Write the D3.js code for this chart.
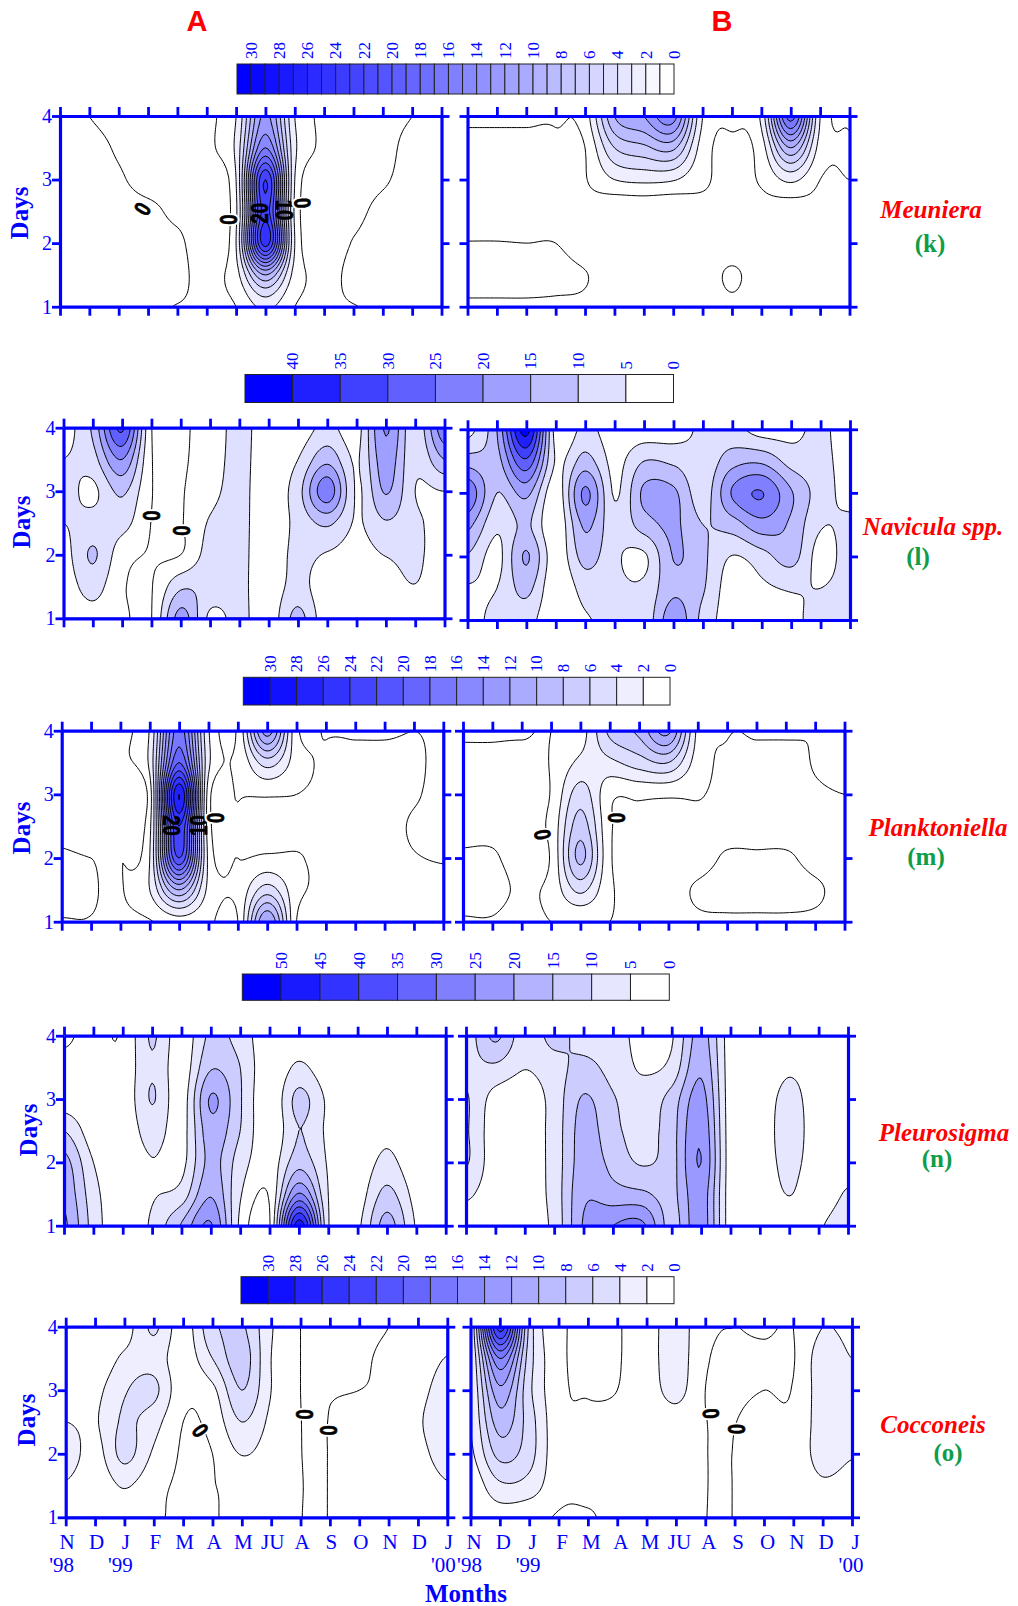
<!DOCTYPE html>
<html><head><meta charset="utf-8">
<script src="https://cdnjs.cloudflare.com/ajax/libs/d3/7.8.5/d3.min.js"></script>
<style>html,body{margin:0;padding:0;background:#fff}svg{display:block}</style>
</head><body><svg id="c" width="1018" height="1606"></svg>
<script>
// ---------- data: rows are day 4, 3.5, 3, 2.5, 2, 1.5, 1; columns are the 14 months ----------
const months = ["N","D","J","F","M","A","M","JU","A","S","O","N","D","J"];
const yearLabels = [[0,"'98"],[2,"'99"],[13,"'00"]];
const dayTicks = [1,2,3,4];
const speciesNames = ["Meuniera","Navicula spp.","Planktoniella","Pleurosigma","Cocconeis"];
const speciesTags = ["(k)","(l)","(m)","(n)","(o)"];

const meunieraA = [
[.3,0,-.3,-.3,-.3,-.3,2,12.5,2,-.3,-.3,-.3,0,.3],
[.3,.3,-.1,-.3,-.3,-.3,2.5,16,2.5,-.3,-.3,-.3,.3,.3],
[.3,.3,.1,-.3,-.3,-.4,2,24,2,-.4,-.3,-.1,.3,.3],
[.3,.3,.3,.2,-.2,-.4,1.6,23,1.6,-.4,-.2,.2,.3,.3],
[.3,.3,.3,.3,.2,-.4,2,25,2,-.4,.05,.3,.3,.3],
[.3,.3,.3,.3,.3,-.3,1.2,10,1.2,-.3,.3,.3,.3,.3],
[.1,.1,.1,.1,-.02,-.1,0,2.5,0,-.1,-.02,.1,.1,.1]];
const meunieraB = [
[.15,.15,.15,.15,1,10,12,15,2,.3,2.5,19,2,-.2],
[-.3,-.3,-.3,-.3,0,6,7.5,8.5,1,-.3,1,10,1.2,.2],
[-.3,-.3,-.3,-.3,-.1,2,2.5,2.2,.3,-.3,.2,2.5,0,0],
[-.3,-.3,-.3,-.3,-.4,-1.6,-1.6,-1.6,-.4,-.3,-.4,-1,-.3,-.3],
[.02,.02,0,0,-.3,-.3,-.3,-.3,-.3,-.3,-.3,-.3,-.3,-.3],
[.3,.3,.3,.2,.03,-.3,-.3,-.3,-.3,.08,-.3,-.3,-.3,-.3],
[-.1,-.1,-.1,-.1,-.1,-.3,-.3,-.3,-.3,-.1,-.3,-.3,-.3,-.3]];
const naviculaA = [
[3,11,31,.2,-.5,2,6.5,2,2,6.5,3,20.5,6.5,24],
[5,8,20,.3,-.5,2.5,6.5,2,5,13.5,4.5,18,6,15],
[7,4,11,.2,-.3,3.5,6.5,2,8,23,4.5,15.5,5,5],
[5,7,7,-.1,-.3,5.5,6.5,2,6.5,11,4.5,9.5,6,3],
[3,10.5,2,-.3,0,7,6.5,2,6.5,4.5,3,5.2,6,2],
[2,7,.5,-.2,9,8,6.5,2,7,1,2,2.5,4.8,1],
[1,3,.8,-.1,17,4,6.5,2,11.5,1,1,1,1,1]];
const naviculaB = [
[3,15,42,3,6.5,2,2,2.5,6,6.5,3,3.5,6,2],
[12.5,13,29,4.5,12,3.5,10,9,6.5,13,14,8,6.5,3],
[24,10,16.5,2,21,4.5,16,16,7.5,20.5,25.2,15.5,7.5,3.5],
[16.5,6,11,1,16,6.5,12.5,16,10,12.5,18,14,5.5,6],
[9.5,3.5,15.5,2,12,6,4.2,15.2,11,4.8,8,12,3,7.5],
[4.5,5,11.5,1,7,6,6,14,10.5,2,4,5.5,5,7],
[3,6.5,7,1,4.5,6,6.5,18,8.5,2,1.5,3.5,7,7]];
const planktonA = [
[-.2,-.2,-.2,2.2,17,2.2,.3,13,.5,.1,.1,.1,0,.1],
[-.2,-.2,-.2,2.5,20,2.5,.3,5,1,-.3,-.3,-.3,-.2,.3],
[-.2,-.2,-.2,1,28,1,.1,.2,0,-.3,-.3,-.3,-.1,.3],
[-.1,-.2,-.2,1.5,24,1,-.3,-.3,-.3,-.3,-.3,-.3,.1,.3],
[.05,0,-.05,2,22,1.5,0,.3,.1,-.3,-.3,-.3,-.05,.05],
[.2,.1,-.1,2,10,1.5,.5,5,.6,-.3,-.3,-.3,-.3,-.2],
[-.02,-.02,-.2,-.1,1,.3,0,12,0,-.3,-.3,-.3,-.3,-.2]];
const planktonB = [
[.1,.1,.1,0,1,6.5,8.5,12.5,1.5,.1,.1,.1,0,.1],
[-.2,-.2,-.3,.1,2.5,3.5,5,6,1,-.3,-.3,-.3,.05,.2],
[-.2,-.2,-.3,.1,5,.5,.4,.3,.1,-.3,-.3,-.3,-.1,0],
[-.2,-.2,-.3,.5,7,.3,-.3,-.3,-.2,-.3,-.3,-.3,-.2,-.2],
[.1,.1,-.3,.2,8.5,.3,-.3,-.3,-.3,.1,.1,.1,-.2,-.2],
[.3,.3,-.1,.5,4.5,.3,-.3,-.3,.1,.3,.3,.3,.1,-.2],
[-.05,-.05,-.3,0,0,0,-.3,-.3,-.1,-.1,-.1,-.1,-.1,-.2]];
const pleuroA = [
[-.5,1,.5,10.5,2,11,8,1,1.5,1,1,1,1,1],
[1,1,1,9.5,2,14.5,10,1,6,1.5,1,1,1,1],
[2,1,1,10.3,2.5,20.5,10.5,1,11.5,4,1,1.5,1,1],
[10,2,1,7.5,3,18,10,1,10,4,1,3.5,1,1],
[17,5,1,4.7,3.5,16.5,7.5,2,13,4.5,1.5,6.5,1,1],
[19,7,1,4.5,7,19.5,5.5,.5,25.5,5,2.5,11.5,3,1],
[21,8,1,6,15.5,25.5,4,-.5,48,5.5,4,17,4.5,1]];
const pleuroB = [
[7,16,7,11.5,8,6.5,4,4.5,17,2.5,2.5,3,2,1.5],
[8.5,9,5.2,8,11.5,8,4.5,6.5,19,2.5,2.5,4.5,3,1.5],
[10.5,3,2,7,15.5,10.5,7,12,22,2.5,3,6,3,1.5],
[10.5,2,2,7,17,11.5,8,13,24,2.5,3,6.5,3,2],
[10.5,2,2,7,17.5,13.5,9.5,13,25,2.5,3,6,3,3],
[6,2,2,7,19,17,16,13.5,23,2.5,2.5,5.1,2.5,5.5],
[2,2,2,6.5,20.5,25,26,13,23,2.5,2.5,3,4.5,7.5]];
const coccA = [
[1,.5,1,4.3,1,5.5,6.3,2.2,0,-.3,-.3,0,.5,.8],
[1,.5,2.4,3.2,.8,4,7,2,0,-.3,-.2,.3,.8,2.1],
[1,1.4,3.8,4.5,.5,1.5,6,2,0,-.05,0,.3,1.3,3],
[2,1.8,4.3,2.8,0,.6,4,1.5,.02,.02,.5,.3,1.7,3.5],
[3.2,1.2,4.6,1.7,-.2,0,2.1,1,.02,.02,.5,.3,1.3,3],
[1.8,.5,2.2,.5,-.2,-.05,.5,1,.04,.03,.8,.3,.7,1.8],
[1,.5,.5,.1,-.1,-.1,.5,.8,.02,.02,.5,.3,.5,.5]];
const coccB = [
[2,25,5.5,.5,-.05,-.1,1,3,.4,0,.2,0,2,1.5],
[2,16,5,.5,-.2,-.1,1,3,.2,-.2,-.3,-.1,3,2],
[2,11.5,4.5,.5,-.1,0,.8,2.7,0,-.2,0,.1,3,3],
[2,9,5,.5,.3,.3,.3,1,.03,-.02,.5,.3,3,3],
[1.6,6.7,4.8,.5,.3,.3,.3,.8,.03,.02,.5,.3,3,2.2],
[.5,3.6,3.2,.5,.3,.3,.3,1,.04,.03,.8,.3,1.6,1],
[.3,1,.5,-.1,-.1,.3,.3,.8,.02,.02,.5,.3,.5,.5]];

// contour labels: month position, day, text, rotation
const labelsMeunieraA = [[2.8,2.54,"0",-61],[5.74,2.37,"0",90],[6.82,2.47,"20",-90],[7.64,2.52,"10",90],[8.27,2.63,"0",85]];
const labelsNaviculaA = [[2.98,2.615,"0",90],[4.01,2.38,"0",90]];
const labelsPlanktonA = [[3.73,2.51,"20",90],[4.68,2.51,"10",-90],[5.23,2.63,"0",90]];
const labelsPlanktonB = [[2.72,2.37,"0",80],[5.21,2.63,"0",90]];
const labelsCoccA = [[4.59,2.37,"0",56],[8.14,2.62,"0",90],[8.95,2.37,"0",90]];
const labelsCoccB = [[8.2,2.63,"0",85],[9.06,2.39,"0",90]];

// ---------- layout ----------
const BLUE="#0000ff";
const rows = [
 {A:meunieraA,B:meunieraB,la:labelsMeunieraA,lb:[],ax:[60,441.5],bx:[467.5,849.5],ay:[116,306.7],by:[116,306.7],
  bar:[237,674,64,94],top:30,fill:2,barStep:1,line:2,lab:2,days:[20,213],sp:[931,218],tag:[930,252]},
 {A:naviculaA,B:naviculaB,la:labelsNaviculaA,lb:[],ax:[63.5,444.5],bx:[467.5,850],ay:[427.7,618.3],by:[429.3,620],
  bar:[245,673.5,374.5,402.5],top:40,fill:5,barStep:5,line:5,lab:5,days:[22,522],sp:[933,535],tag:[918,565]},
 {A:planktonA,B:planktonB,la:labelsPlanktonA,lb:labelsPlanktonB,ax:[61.7,443.3],bx:[463,844.5],ay:[730.7,921.7],by:[730.7,921.7],
  bar:[243.3,670,677.3,705],top:30,fill:2,barStep:2,line:2,lab:2,days:[22,828],sp:[938,836],tag:[926,865]},
 {A:pleuroA,B:pleuroB,la:[],lb:[],ax:[64,445.7],bx:[466,848],ay:[1035.7,1225.7],by:[1035.7,1225.7],
  bar:[242.3,669.3,974,1000.3],top:50,fill:5,barStep:5,line:5,lab:5,days:[29,1130],sp:[944,1141],tag:[937,1167]},
 {A:coccA,B:coccB,la:labelsCoccA,lb:labelsCoccB,ax:[65.7,447.3],bx:[470.5,852],ay:[1326.7,1517.3],by:[1326.7,1517.3],
  bar:[241,674,1276.7,1303.7],top:30,fill:2,barStep:2,line:2,lab:2,days:[27,1420],sp:[933,1433],tag:[948,1461]}
];

const svg=d3.select("#c");
svg.append("rect").attr("width",1018).attr("height",1606).attr("fill","#fff");
const defs=svg.append("defs");
const SERIF="'Liberation Serif','Times New Roman',serif", SANS="'Liberation Sans',Arial,sans-serif";

// Surfer-like spline smoothing of the read grid before contouring
function cr(a,b,c,d,t){return .5*(2*b+(c-a)*t+(2*a-5*b+4*c-d)*t*t+(3*b-a-3*c+d)*t*t*t);}
const KX=12,KY=14;
function dense(g){
  const nr=g.length,nc=g[0].length,W=(nc-1)*KX+1,H=(nr-1)*KY+1;
  const col=[];
  for(let c=0;c<nc;c++){const a=[];for(let j=0;j<H;j++){const r=Math.min(Math.floor(j/KY),nr-2),t=j/KY-r;
    a.push(cr(g[Math.max(r-1,0)][c],g[r][c],g[r+1][c],g[Math.min(r+2,nr-1)][c],t));}col.push(a);}
  const v=new Array(W*H);
  for(let j=0;j<H;j++)for(let i=0;i<W;i++){const c=Math.min(Math.floor(i/KX),nc-2),t=i/KX-c;
    v[j*W+i]=cr(col[Math.max(c-1,0)][j],col[c][j],col[c+1][j],col[Math.min(c+2,nc-1)][j],t);}
  return {v,W,H};
}
let clipId=0;
function panel(g,xr,yr,row,labels,isLeft,isBottom){
  const xs=d3.scaleLinear([0,13],xr), ys=d3.scaleLinear([1,4],[yr[1],yr[0]]);
  const id="cl"+(clipId++);
  defs.append("clipPath").attr("id",id).append("rect").attr("x",xr[0]).attr("y",yr[0]).attr("width",xr[1]-xr[0]).attr("height",yr[1]-yr[0]);
  const gp=svg.append("g").attr("clip-path",`url(#${id})`);
  const {v,W,H}=dense(g);
  const tr=d3.geoTransform({point(x,y){
    const cx=Math.max(0,Math.min(13,(x-.5)/KX)), cy=Math.max(0,Math.min(6,(y-.5)/KY));
    this.stream.point(xs(cx),ys(4-cy/2));}});
  const path=d3.geoPath(tr), gen=d3.contours().size([W,H]);
  const color=L=>d3.interpolateRgb("#ffffff",BLUE)(Math.min(1,L/row.top));
  for(const L of d3.range(row.fill,row.top+row.fill,row.fill))
    gp.append("path").attr("d",path(gen.contour(v,L))).attr("fill",color(L)).attr("stroke","none");
  for(const L of d3.range(0,row.top+row.fill,row.line))
    gp.append("path").attr("d",path(gen.contour(v,L))).attr("fill","none").attr("stroke","#000").attr("stroke-width",1);
  // axes
  const style=s=>{s.selectAll(".domain").attr("stroke",BLUE).attr("stroke-width",3.2);
    s.selectAll(".tick line").attr("stroke",BLUE).attr("stroke-width",2.8);
    s.selectAll("text").attr("fill",BLUE).attr("font-family",SERIF).attr("font-size",20);};
  const mt=d3.range(14);
  svg.append("g").attr("transform",`translate(0,${yr[0]})`).call(d3.axisTop(xs).tickValues(mt).tickSize(9).tickSizeOuter(0).tickFormat("")).call(style);
  const bottom=d3.axisBottom(xs).tickValues(mt).tickSize(9).tickSizeOuter(0).tickPadding(8)
     .tickFormat(isBottom?(d=>months[d]):"");
  svg.append("g").attr("transform",`translate(0,${yr[1]})`).call(bottom).call(style)
     .selectAll("text").attr("dx",isLeft?1:3).attr("font-size",21);
  svg.append("g").attr("transform",`translate(${xr[0]},0)`).call(d3.axisLeft(ys).tickValues(dayTicks).tickSize(8).tickSizeOuter(0).tickPadding(0).tickFormat(isLeft?d3.format("d"):"")).call(style);
  svg.append("g").attr("transform",`translate(${xr[1]},0)`).call(d3.axisRight(ys).tickValues(dayTicks).tickSize(8).tickSizeOuter(0).tickFormat("")).call(style);
  // contour labels
  for(const [c,d,t,a] of labels){
    const place=s=>s.text(t).attr("transform",`translate(${xs(c)},${ys(d)}) rotate(${a}) scale(.8,1)`)
      .attr("text-anchor","middle").attr("dy",".36em").attr("font-family",SANS).attr("font-weight","bold").attr("font-size",23);
    if(t==="0") svg.append("text").call(place).attr("fill","#fff").attr("stroke","#fff").attr("stroke-width",5);
    svg.append("text").call(place).attr("fill","#000").attr("stroke","#000").attr("stroke-width",.7);
  }
  if(isBottom){
    for(const [c,t] of yearLabels)
      svg.append("text").text(t).attr("x",xs(c)-(isLeft?4:1)).attr("y",1572).attr("text-anchor","middle")
       .attr("fill",BLUE).attr("font-family",SERIF).attr("font-size",21);
  }
}
function colorbar(row){
  const [x0,x1,y0,y1]=row.bar, s=row.barStep;
  const xb=d3.scaleLinear([row.top+s,0],[x0,x1]);
  const levels=d3.range(row.top,-s,-s);
  const color=L=>d3.interpolateRgb("#ffffff",BLUE)(L/row.top);
  svg.append("g").selectAll("rect").data(levels).join("rect")
    .attr("x",L=>xb(L+s)).attr("width",L=>xb(L)-xb(L+s)).attr("y",y0).attr("height",y1-y0)
    .attr("fill",color).attr("stroke","#222").attr("stroke-width",1);
  svg.append("g").selectAll("text").data(d3.range(row.top,-1,-row.lab)).join("text").text(d=>d)
    .attr("transform",d=>`translate(${xb(d)},${y0-5}) rotate(-90)`).attr("dy",".34em")
    .attr("fill",BLUE).attr("font-family",SERIF).attr("font-size",17);
}
rows.forEach((r,i)=>{
  colorbar(r);
  panel(r.A,r.ax,r.ay,r,r.la,true,i===4);
  panel(r.B,r.bx,r.by,r,r.lb,false,i===4);
  svg.append("text").text("Days").attr("transform",`translate(${r.days[0]},${r.days[1]}) rotate(-90)`)
    .attr("text-anchor","middle").attr("dy",".32em").attr("fill",BLUE).attr("font-family",SERIF).attr("font-weight","bold").attr("font-size",25);
  svg.append("text").text(speciesNames[i]).attr("x",r.sp[0]).attr("y",r.sp[1]).attr("text-anchor","middle")
    .attr("fill","#ff0000").attr("font-family",SERIF).attr("font-weight","bold").attr("font-style","italic").attr("font-size",25);
  svg.append("text").text(speciesTags[i]).attr("x",r.tag[0]).attr("y",r.tag[1]).attr("text-anchor","middle")
    .attr("fill","#0f9d4a").attr("font-family",SERIF).attr("font-weight","bold").attr("font-size",25);
});
[["A",197],["B",722]].forEach(([t,x])=>svg.append("text").text(t).attr("x",x).attr("y",31).attr("text-anchor","middle")
  .attr("fill","#ff0000").attr("font-family",SANS).attr("font-weight","bold").attr("font-size",29));
svg.append("text").text("Months").attr("x",466).attr("y",1602).attr("text-anchor","middle")
  .attr("fill",BLUE).attr("font-family",SERIF).attr("font-weight","bold").attr("font-size",25);
</script></body></html>
